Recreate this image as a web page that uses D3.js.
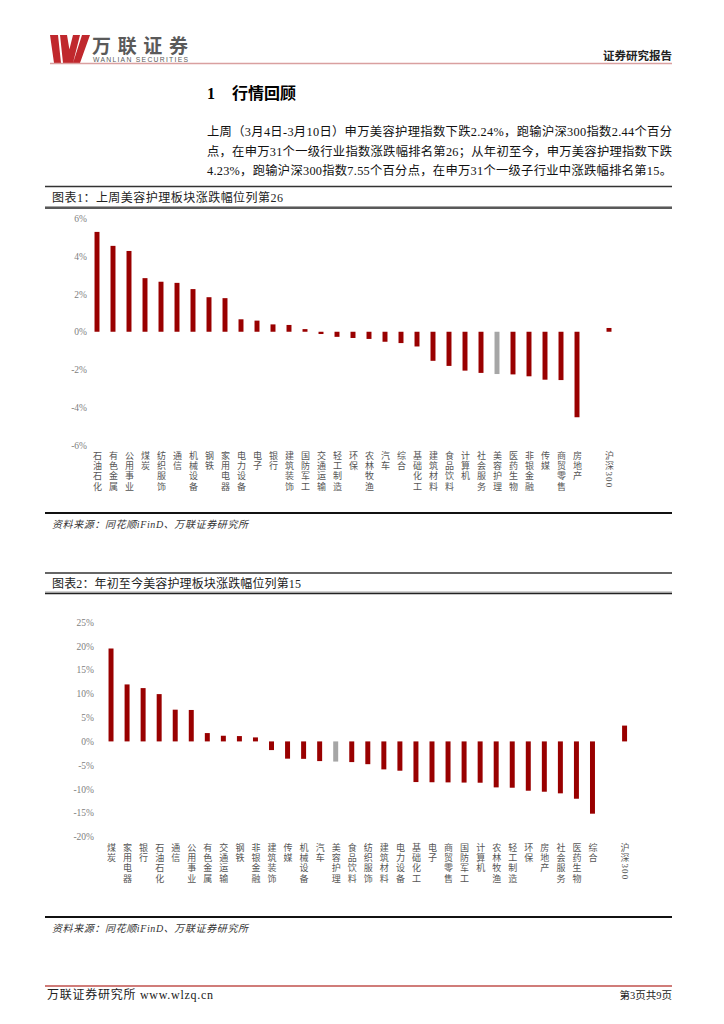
<!DOCTYPE html>
<html>
<head>
<meta charset="utf-8">
<script src="https://cdn.jsdelivr.net/npm/d3@7"></script>
<style>
  body { margin: 0; background: #fff; }
  svg { display: block; }
</style>
</head>
<body>
<div id="page"></div>
<script>
// 图表1: 上周涨跌幅 (%)
var names1 = ["石油石化", "有色金属", "公用事业", "煤炭", "纺织服饰", "通信", "机械设备", "钢铁",
  "家用电器", "电力设备", "电子", "银行", "建筑装饰", "国防军工", "交通运输", "轻工制造", "环保",
  "农林牧渔", "汽车", "综合", "基础化工", "建筑材料", "食品饮料", "计算机", "社会服务", "美容护理",
  "医药生物", "非银金融", "传媒", "商贸零售", "房地产"];
var values1 = [5.29, 4.55, 4.28, 2.84, 2.65, 2.59, 2.26, 1.83, 1.78, 0.66, 0.59, 0.39, 0.36, 0.14,
  -0.12, -0.27, -0.33, -0.38, -0.53, -0.60, -0.78, -1.54, -1.81, -2.06, -2.18, -2.24, -2.26, -2.36,
  -2.54, -2.56, -4.53];
var hs300Week = 0.20;

// 图表2: 年初至今涨跌幅 (%)
var names2 = ["煤炭", "家用电器", "银行", "石油石化", "通信", "公用事业", "有色金属", "交通运输",
  "钢铁", "非银金融", "建筑装饰", "传媒", "机械设备", "汽车", "美容护理", "食品饮料", "纺织服饰",
  "建筑材料", "电力设备", "基础化工", "电子", "商贸零售", "国防军工", "计算机", "农林牧渔", "轻工制造",
  "环保", "房地产", "社会服务", "医药生物", "综合"];
var values2 = [19.5, 11.96, 11.19, 9.93, 6.66, 6.6, 1.75, 1.19, 1.12, 0.84, -1.82, -3.62, -3.66,
  -4.13, -4.23, -4.34, -4.78, -5.87, -6.15, -8.53, -8.57, -8.6, -8.64, -8.67, -9.65, -9.72, -10.35,
  -10.56, -10.9, -12.03, -15.17];
var hs300Ytd = 3.32;

var ticks1 = [-6, -4, -2, 0, 2, 4, 6];
var ticks2 = [-20, -15, -10, -5, 0, 5, 10, 15, 20, 25];
var highlight = "美容护理";
var hsName = "沪深300";

var W = 724, H = 1024;
var cjk = "'Noto Sans CJK SC', sans-serif";
var mixed = "'Liberation Serif', 'Noto Sans CJK SC', serif";

var svg = d3.select("#page").append("svg")
  .attr("width", W)
  .attr("height", H);

// ---- page header ----
svg.append("path")
  .attr("d", "M50,35 L58,35 L61,63 L54,63 Z M60,35 L67,35 L70,53 L67,63 L63,63 Z M73,35 L80,35 L73,63 L66,63 Z M82,35 L90,35 L80,63 L73,63 Z")
  .attr("fill", "#c0282d");
svg.append("text")
  .attr("x", 92).attr("y", 53)
  .attr("textLength", 96).attr("lengthAdjust", "spacing")
  .style("font-family", cjk).style("font-weight", 700).style("font-size", "19px")
  .style("fill", "#5a5a5a")
  .text("万联证券");
svg.append("text")
  .attr("x", 93).attr("y", 62)
  .attr("textLength", 95).attr("lengthAdjust", "spacing")
  .style("font-family", "'Liberation Sans', sans-serif").style("font-size", "6.8px")
  .style("fill", "#5a5a5a")
  .text("WANLIAN SECURITIES");
svg.append("line")
  .attr("x1", 50).attr("x2", 672).attr("y1", 63.5).attr("y2", 63.5)
  .style("stroke", "#d9a0a0").style("stroke-width", 1.5);
svg.append("text")
  .attr("x", 672).attr("y", 60).attr("text-anchor", "end")
  .style("font-family", cjk).style("font-weight", 700).style("font-size", "11.5px")
  .style("fill", "#222")
  .text("证券研究报告");

// ---- section heading + paragraph ----
svg.append("text")
  .attr("x", 207).attr("y", 99)
  .style("font-family", mixed).style("font-weight", 700).style("font-size", "16px")
  .text("1");
svg.append("text")
  .attr("x", 232).attr("y", 99)
  .style("font-family", cjk).style("font-weight", 700).style("font-size", "16px")
  .text("行情回顾");

var para = [
  "上周（3月4日-3月10日）申万美容护理指数下跌2.24%，跑输沪深300指数2.44个百分",
  "点，在申万31个一级行业指数涨跌幅排名第26；从年初至今，申万美容护理指数下跌",
  "4.23%，跑输沪深300指数7.55个百分点，在申万31个一级子行业中涨跌幅排名第15。"
];
svg.selectAll(".para").data(para).enter().append("text")
  .attr("class", "para")
  .attr("x", 207)
  .attr("y", function (d, i) { return 136 + i * 19.5; })
  .attr("textLength", 465).attr("lengthAdjust", "spacing")
  .style("font-family", mixed).style("font-size", "12.3px").style("fill", "#111")
  .text(function (d) { return d; });

// ---- chart helpers ----
function titleBar(yTop, yBot, label, len) {
  svg.append("line").attr("x1", 45).attr("x2", 672).attr("y1", yTop).attr("y2", yTop)
    .style("stroke", "#333").style("stroke-width", 1.5);
  svg.append("line").attr("x1", 45).attr("x2", 672).attr("y1", yBot - 1.5).attr("y2", yBot - 1.5)
    .style("stroke", "#666").style("stroke-width", 0.6);
  svg.append("line").attr("x1", 45).attr("x2", 672).attr("y1", yBot).attr("y2", yBot)
    .style("stroke", "#222").style("stroke-width", 1.6);
  svg.append("text")
    .attr("x", 52).attr("y", (yTop + yBot) / 2 + 4.5)
    .attr("textLength", len).attr("lengthAdjust", "spacing")
    .style("font-family", mixed).style("font-size", "12px").style("fill", "#222")
    .text(label);
}

function sourceLine(y) {
  svg.append("line").attr("x1", 45).attr("x2", 672).attr("y1", y).attr("y2", y)
    .style("stroke", "#111").style("stroke-width", 2);
  svg.append("text")
    .attr("x", 52).attr("y", y + 15)
    .attr("textLength", 196).attr("lengthAdjust", "spacing")
    .style("font-family", mixed).style("font-size", "10px").style("font-style", "italic")
    .style("fill", "#333")
    .text("资料来源：同花顺iFinD、万联证券研究所");
}

function barChart(cfg) {
  var cats = cfg.names.concat([" ", hsName]);
  var vals = cfg.values.concat([null, cfg.hs]);
  var data = cats.map(function (c, i) { return {name: c, value: vals[i]}; });

  var x = d3.scaleBand()
    .domain(cats)
    .range(cfg.xRange)
    .paddingInner(0.69)
    .paddingOuter(0.345);

  var y = d3.scaleLinear()
    .domain(cfg.yDomain)
    .range(cfg.yRange);

  var g = svg.append("g");

  // y axis: labels only
  var ax = g.append("g")
    .attr("transform", "translate(" + cfg.axisX + ",0)")
    .call(d3.axisLeft(y).tickValues(cfg.ticks).tickSize(0).tickPadding(0)
      .tickFormat(function (d) { return d + "%"; }));
  ax.select(".domain").remove();
  ax.selectAll("text")
    .style("font-family", "'Liberation Serif', serif")
    .style("font-size", "9.5px")
    .style("fill", "#808080");

  // bars
  g.selectAll(".bar")
    .data(data.filter(function (d) { return d.value !== null; }))
    .enter().append("rect")
    .attr("class", "bar")
    .attr("x", function (d) { return x(d.name); })
    .attr("width", x.bandwidth())
    .attr("y", function (d) { return y(Math.max(0, d.value)); })
    .attr("height", function (d) { return Math.abs(y(d.value) - y(0)); })
    .style("fill", function (d) { return d.name === highlight ? "#a6a6a6" : "#990000"; });

  // vertical category labels
  g.selectAll(".cat")
    .data(data.filter(function (d) { return d.value !== null; }))
    .enter().append("text")
    .attr("class", "cat")
    .attr("x", function (d) { return x(d.name) + x.bandwidth() / 2; })
    .attr("y", cfg.labelTop)
    .style("writing-mode", "vertical-rl")
    .style("letter-spacing", "1.2px")
    .style("font-family", "'Liberation Serif', 'Noto Sans CJK SC', serif")
    .style("font-size", "9px")
    .style("fill", "#555")
    .text(function (d) { return d.name; });
}

// ---- chart 1 ----
titleBar(186.5, 208, "图表1：上周美容护理板块涨跌幅位列第26", 231);
barChart({
  names: names1, values: values1, hs: hs300Week,
  xRange: [89, 617], yDomain: [-6, 6], yRange: [445, 218.5],
  ticks: ticks1, axisX: 87, labelTop: 451
});
sourceLine(513);

// ---- chart 2 ----
titleBar(573, 593.5, "图表2：年初至今美容护理板块涨跌幅位列第15", 249);
barChart({
  names: names2, values: values2, hs: hs300Ytd,
  xRange: [103, 632.6], yDomain: [-20, 25], yRange: [836.7, 622.3],
  ticks: ticks2, axisX: 94, labelTop: 843
});
sourceLine(917);

// ---- footer ----
svg.append("line").attr("x1", 45).attr("x2", 672).attr("y1", 986).attr("y2", 986)
  .style("stroke", "#c0504d").style("stroke-width", 1.5);
svg.append("text")
  .attr("x", 47).attr("y", 999)
  .attr("textLength", 166).attr("lengthAdjust", "spacing")
  .style("font-family", mixed).style("font-size", "12px").style("fill", "#222")
  .text("万联证券研究所 www.wlzq.cn");
svg.append("text")
  .attr("x", 672).attr("y", 999).attr("text-anchor", "end")
  .style("font-family", mixed).style("font-size", "10.5px").style("fill", "#222")
  .text("第3页共9页");
</script>
</body>
</html>
